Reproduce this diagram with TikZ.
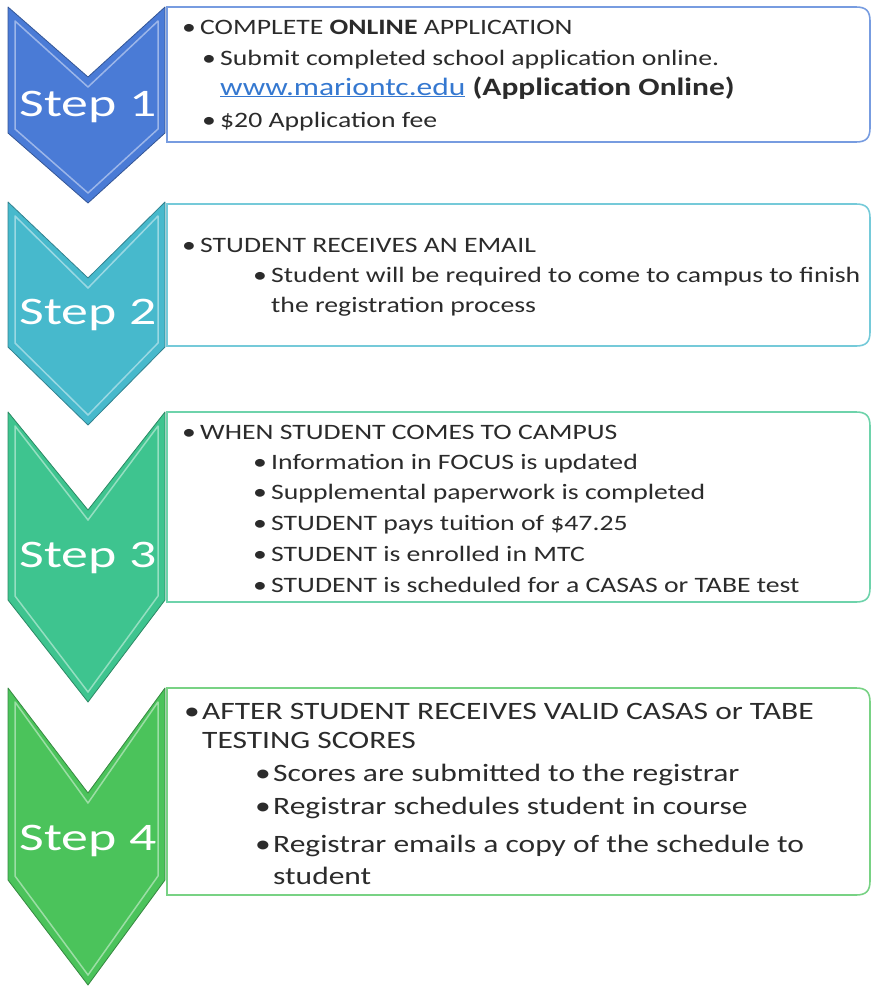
\documentclass[tikz,border=0pt]{standalone}
\usepackage{fontspec}
\setmainfont{Carlito}[FakeStretch=1.26]
\newfontfamily\stepfont[FakeStretch=1.38]{Carlito}
\definecolor{stepA}{HTML}{4A7BD6}
\definecolor{stepB}{HTML}{47B9CC}
\definecolor{stepC}{HTML}{3EC48F}
\definecolor{stepD}{HTML}{4BC35B}
\definecolor{bodytext}{HTML}{2B2B2B}
\definecolor{link}{HTML}{3578D0}
\newcommand{\bul}{\makebox[18pt][l]{•}}
% chevron: top, notch, side bottom, tip, colour
\newcommand{\chevron}[5]{%
  \fill[#5] (8,#1) -- (88,#2) -- (165,#1) -- (165,#3) -- (88,#4) -- (8,#3) -- cycle;
  \draw[#5!55!white, line width=1.5pt, line join=round]
    (15,#1+14) -- (88,#2+10) -- (158,#1+14) -- (158,#3-4) -- (88,#4-10) -- (15,#3-4) -- cycle;
  \draw[#5!70!black, line width=0.8pt, line join=round]
    (8,#1) -- (88,#2) -- (165,#1) -- (165,#3) -- (88,#4) -- (8,#3) -- cycle;
}
% text box, square on the left, rounded on the right
\newcommand{\stepbox}[3]{%
  \draw[#3, line width=1.6pt] (167,#1) -- (856,#1) .. controls (866,#1) and (870,#1+4) .. (870,#1+14)
    -- (870,#2-14) .. controls (870,#2-4) and (866,#2) .. (856,#2) -- (167,#2) -- cycle;
}
\tikzset{
  steplabel/.style={anchor=base, text=white, inner sep=0pt, font=\stepfont\fontsize{39}{39}\selectfont},
  item/.style={anchor=base west, inner sep=0pt, text=bodytext, font=\fontsize{22}{26}\selectfont},
  bigitem/.style={item, font=\fontsize{25}{30}\selectfont},
}
\begin{document}
\begin{tikzpicture}[x=1pt, y=-1pt]
  \useasboundingbox (0,0) rectangle (872,988);

  % chevrons
  \chevron{7}{77}{133}{203}{stepA}
  \chevron{202}{278}{347}{425}{stepB}
  \chevron{412}{510}{600}{702}{stepC}
  \chevron{688}{793}{880}{985}{stepD}
  \node[steplabel] (s1) at (88,116) {Step 1};
  \node[steplabel] (s2) at (88,324) {Step 2};
  \node[steplabel] (s3) at (88,567) {Step 3};
  \node[steplabel] (s4) at (88,850) {Step 4};

  % boxes
  \stepbox{7}{142}{stepA!75!white}
  \stepbox{204}{346}{stepB!75!white}
  \stepbox{412}{602}{stepC!75!white}
  \stepbox{688}{895}{stepD!75!white}

  % step 1
  \node[item] (a1) at (182,34) {\bul COMPLETE \textbf{ONLINE} APPLICATION};
  \node[item] (a2) at (202,65) {\bul Submit completed school application online.};
  \node[bigitem] (a3) at (220,95) {{\color{link}\underline{www.mariontc.edu}} \textbf{(Application Online)}};
  \node[item] (a4) at (202,127) {\bul \$20 Application fee};

  % step 2
  \node[item] (b1) at (182,252) {\bul STUDENT RECEIVES AN EMAIL};
  \node[item] (b2) at (253,282) {\bul Student will be required to come to campus to finish};
  \node[item] (b3) at (271,312) {the registration process};

  % step 3
  \node[item] (c1) at (182,439) {\bul WHEN STUDENT COMES TO CAMPUS};
  \node[item] (c2) at (253,469) {\bul Information in FOCUS is updated};
  \node[item] (c3) at (253,499) {\bul Supplemental paperwork is completed};
  \node[item] (c4) at (253,530) {\bul STUDENT pays tuition of \$47.25};
  \node[item] (c5) at (253,561) {\bul STUDENT is enrolled in MTC};
  \node[item] (c6) at (253,592) {\bul STUDENT is scheduled for a CASAS or TABE test};

  % step 4
  \node[bigitem] (d1) at (184,719) {\bul AFTER STUDENT RECEIVES VALID CASAS or TABE};
  \node[bigitem] (d2) at (202,748) {TESTING SCORES};
  \node[bigitem] (d3) at (255,781) {\bul Scores are submitted to the registrar};
  \node[bigitem] (d4) at (255,814) {\bul Registrar schedules student in course};
  \node[bigitem] (d5) at (255,852) {\bul Registrar emails a copy of the schedule to};
  \node[bigitem] (d6) at (273,884) {student};
\end{tikzpicture}
\end{document}
